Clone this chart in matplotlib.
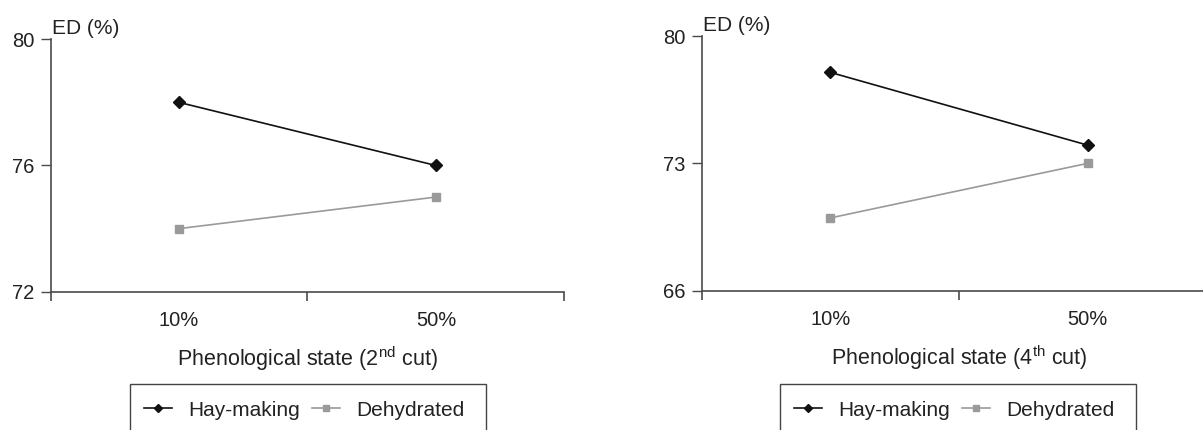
import matplotlib
matplotlib.use("Agg")
import matplotlib.pyplot as plt
from matplotlib.patches import Rectangle
from matplotlib.lines import Line2D
import matplotlib.transforms as mtransforms

plt.rcParams['font.family'] = ['Liberation Sans', 'DejaVu Sans']
plt.rcParams['mathtext.fontset'] = 'custom'
plt.rcParams['mathtext.rm'] = 'Liberation Sans'
plt.rcParams['mathtext.it'] = 'Liberation Sans:italic'

categories = ["10%", "50%"]
hay_2nd = [78.0, 76.0]
dehy_2nd = [74.0, 75.0]
hay_4th = [78.0, 74.0]
dehy_4th = [70.0, 73.0]
yticks_2nd = [72, 76, 80]
yticks_4th = [66, 73, 80]
xlabel_2nd = "Phenological state (2$^{\\rm nd}$ cut)"
xlabel_4th = "Phenological state (4$^{\\rm th}$ cut)"
ylabel = "ED (%)"
series_names = ["Hay-making", "Dehydrated"]

W, H = 1203, 430
fig = plt.figure(figsize=(W / 100, H / 100), dpi=100)

TXT = '#222222'
SPINE = '#4a4a4a'
HAY_C = '#111111'
DEH_C = '#9a9a9a'


def px_rect(x0, y_top, x1, y_bot):
    return [x0 / W, 1 - y_bot / H, (x1 - x0) / W, (y_bot - y_top) / H]


def make_panel(rect, hay, dehy, yticks, xlabel, legend_box):
    ax = fig.add_axes(rect)
    x = list(range(len(categories)))
    ax.plot(x, hay, color=HAY_C, lw=1.2, marker='D', ms=6, mfc=HAY_C, mec=HAY_C,
            label=series_names[0], clip_on=False, zorder=3)
    ax.plot(x, dehy, color=DEH_C, lw=1.2, marker='s', ms=6, mfc=DEH_C, mec=DEH_C,
            label=series_names[1], clip_on=False, zorder=3)
    ax.set_xlim(-0.5, len(categories) - 0.5)
    ax.set_ylim(yticks[0], yticks[-1])
    ax.set_yticks(yticks)
    ax.set_xticks(x)
    ax.set_xticklabels(categories)
    ax.set_xticks([-0.5, 0.5, 1.5], minor=True)
    for s in ['top', 'right']:
        ax.spines[s].set_visible(False)
    for s in ['left', 'bottom']:
        ax.spines[s].set_color(SPINE)
        ax.spines[s].set_linewidth(1.2)
    ax.tick_params(axis='y', length=7.5, width=1.0, color=SPINE, pad=4,
                   labelsize=14.5, labelcolor=TXT)
    ax.tick_params(axis='x', which='major', length=0, pad=14,
                   labelsize=14.5, labelcolor=TXT)
    ax.tick_params(axis='x', which='minor', length=6.5, width=1.2, color=SPINE)
    ax.set_xlabel(xlabel, fontsize=15.5, color=TXT, labelpad=10)
    trans = mtransforms.offset_copy(ax.transAxes, fig=fig, x=1, y=5, units='dots')
    ax.text(0, 1, ylabel, transform=trans, ha='left', va='baseline',
            fontsize=15, color=TXT)

    bx0, by0, bx1 = legend_box
    fig.patches.append(Rectangle((bx0 / W, -0.1), (bx1 - bx0) / W, 1 - by0 / H + 0.1,
                                 transform=fig.transFigure, fill=False,
                                 edgecolor='#444444', lw=1.0, clip_on=False))
    handles = [Line2D([], [], color=HAY_C, lw=1.2, marker='D', ms=4.5),
               Line2D([], [], color=DEH_C, lw=1.2, marker='s', ms=4.5)]
    fig.legend(handles, series_names, loc='center left',
               bbox_to_anchor=((bx0 + 14) / W, 1 - 410 / H), ncol=2,
               frameon=False, fontsize=15, borderpad=0, borderaxespad=0,
               handlelength=1.35, handletextpad=0.75, columnspacing=0.6,
               labelcolor=TXT)
    return ax


make_panel(px_rect(50.7, 39.3, 564.3, 291.7), hay_2nd, dehy_2nd, yticks_2nd,
           xlabel_2nd, (130, 384, 485.7))
make_panel(px_rect(701.7, 36.0, 1216.3, 290.7), hay_4th, dehy_4th, yticks_4th,
           xlabel_4th, (780, 384, 1135.7))

fig.savefig("out.png", dpi=100)
